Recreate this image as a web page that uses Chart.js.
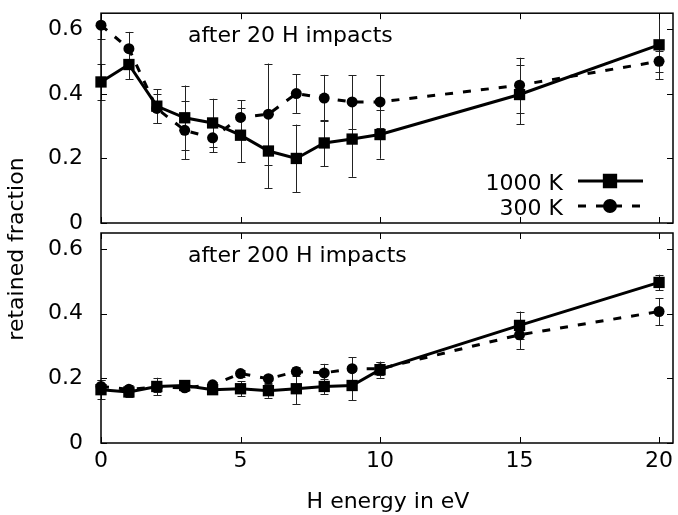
<!DOCTYPE html>
<html>
<head>
<meta charset="utf-8">
<style>
  html, body { margin: 0; padding: 0; background: #fff; }
  #wrap { position: relative; width: 678px; height: 515px; }
  #wrap canvas { position: absolute; left: 0; top: 0; }
</style>
<script src="https://cdn.jsdelivr.net/npm/chart.js@4.4.1/dist/chart.umd.min.js"></script>
</head>
<body>
<div id="wrap">
  <canvas id="topChart" width="678" height="515"></canvas>
  <canvas id="bottomChart" width="678" height="515"></canvas>
</div>
<script>
  'use strict';

  // H energies (eV) and axis ticks
  var energy = [0, 1, 2, 3, 4, 5, 6, 7, 8, 9, 10, 15, 20];
  var xTicks = [0, 5, 10, 15, 20];
  var yTicks = [0, 0.2, 0.4, 0.6];
  var seriesNames = ['1000 K', '300 K'];
  var panelNotes = ['after 20 H impacts', 'after 200 H impacts'];

  // after 20 H impacts
  var hot20     = [0.437, 0.491, 0.362, 0.326, 0.310, 0.272, 0.223, 0.200, 0.248, 0.260, 0.274, 0.398, 0.552];
  var hot20Err  = [0.055, 0.045, 0.052, 0.100, 0.075, 0.083, 0.115, 0.105, 0.072, 0.117, 0.075, 0.092, 0.107];
  var cold20    = [0.613, 0.540, 0.355, 0.287, 0.264, 0.327, 0.337, 0.401, 0.387, 0.375, 0.375, 0.427, 0.501];
  var cold20Err = [0.042, 0.052, 0.045, 0.090, 0.045, 0.053, 0.157, 0.060, 0.072, 0.083, 0.082, 0.085, 0.033];

  // after 200 H impacts
  var hot200     = [0.165, 0.158, 0.175, 0.178, 0.165, 0.168, 0.162, 0.168, 0.175, 0.178, 0.227, 0.364, 0.497];
  var hot200Err  = [0.030, 0.015, 0.027, 0.012, 0.012, 0.023, 0.022, 0.048, 0.024, 0.045, 0.025, 0.043, 0.024];
  var cold200    = [0.175, 0.166, 0.173, 0.171, 0.180, 0.215, 0.199, 0.221, 0.217, 0.230, 0.230, 0.335, 0.407];
  var cold200Err = [0.020, 0.012, 0.015, 0.010, 0.010, 0.012, 0.012, 0.015, 0.028, 0.035, 0.020, 0.044, 0.042];

  Chart.defaults.font.family = "'DejaVu Sans', sans-serif";
  Chart.defaults.font.size = 22;
  Chart.defaults.color = '#000';

  function points(values) {
    return energy.map(function (e, i) { return { x: e, y: values[i] }; });
  }

  // vertical error bars with small caps, cut at the frame
  var errorBars = {
    id: 'errorBars',
    beforeDatasetsDraw: function (chart) {
      var ctx = chart.ctx, area = chart.chartArea;
      var xs = chart.scales.x, ys = chart.scales.y;
      ctx.save();
      ctx.strokeStyle = '#222';
      ctx.lineWidth = 1;
      chart.data.datasets.forEach(function (ds) {
        ds.data.forEach(function (p, i) {
          var px = Math.round(xs.getPixelForValue(p.x)) + 0.5;
          var hi = ys.getPixelForValue(p.y + ds.errors[i]);
          var lo = ys.getPixelForValue(p.y - ds.errors[i]);
          var top = Math.max(hi, area.top), bot = Math.min(lo, area.bottom);
          ctx.beginPath();
          ctx.moveTo(px, top);
          ctx.lineTo(px, bot);
          if (hi >= area.top) { ctx.moveTo(px - 4, Math.round(hi) + 0.5); ctx.lineTo(px + 4, Math.round(hi) + 0.5); }
          if (lo <= area.bottom) { ctx.moveTo(px - 4, Math.round(lo) + 0.5); ctx.lineTo(px + 4, Math.round(lo) + 0.5); }
          ctx.stroke();
        });
      });
      ctx.restore();
    }
  };

  // gnuplot style box with inward ticks on all four sides
  var frame = {
    id: 'frame',
    afterDatasetsDraw: function (chart) {
      var ctx = chart.ctx, a = chart.chartArea;
      var xs = chart.scales.x, ys = chart.scales.y;
      ctx.save();
      ctx.strokeStyle = '#000';
      ctx.lineWidth = 1;
      ctx.beginPath();
      xTicks.forEach(function (v) {
        var px = Math.round(xs.getPixelForValue(v)) + 0.5;
        ctx.moveTo(px, a.bottom); ctx.lineTo(px, a.bottom - 6);
        ctx.moveTo(px, a.top); ctx.lineTo(px, a.top + 6);
      });
      yTicks.forEach(function (v) {
        var py = Math.round(ys.getPixelForValue(v)) + 0.5;
        ctx.moveTo(a.left, py); ctx.lineTo(a.left + 6, py);
        ctx.moveTo(a.right, py); ctx.lineTo(a.right - 6, py);
      });
      ctx.stroke();
      ctx.lineWidth = 1.5;
      ctx.strokeRect(a.left, a.top, a.right - a.left, a.bottom - a.top);
      ctx.restore();
    }
  };

  // panel note, legend and the shared axis titles
  var texts = {
    id: 'texts',
    afterDraw: function (chart, args, opts) {
      var ctx = chart.ctx, a = chart.chartArea;
      ctx.save();
      ctx.fillStyle = '#000';
      ctx.font = "22px 'DejaVu Sans'";
      ctx.textBaseline = 'alphabetic';
      ctx.textAlign = 'left';
      ctx.fillText(opts.note, 188, a.top + 29);

      if (opts.legend) {
        chart.data.datasets.forEach(function (ds, i) {
          var y = 181 + i * 25;
          ctx.textAlign = 'right';
          ctx.fillText(ds.label, 563, y + 9);
          ctx.strokeStyle = ds.borderColor;
          ctx.lineWidth = ds.borderWidth;
          ctx.setLineDash(ds.borderDash || []);
          ctx.beginPath();
          ctx.moveTo(578, y);
          ctx.lineTo(643, y);
          ctx.stroke();
          ctx.setLineDash([]);
          Chart.helpers.drawPoint(ctx, {
            pointStyle: ds.pointStyle, radius: ds.pointRadius, borderWidth: 1, rotation: 0
          }, 610, y);
          ctx.fill();
        });
      }

      if (opts.axisTitles) {
        ctx.textAlign = 'center';
        ctx.fillText('H energy in eV', 388, 508);
        ctx.translate(17, 249);
        ctx.rotate(-Math.PI / 2);
        ctx.textBaseline = 'middle';
        ctx.fillText('retained fraction', 0, 0);
      }
      ctx.restore();
    }
  };

  // invisible tick marks push the labels away from the frame
  function hiddenTicks(len) {
    return { display: true, drawOnChartArea: false, drawTicks: true, tickLength: len, tickColor: 'rgba(0,0,0,0)' };
  }

  function makeChart(id, hot, hotErr, cold, coldErr, isBottom) {
    return new Chart(document.getElementById(id), {
      type: 'scatter',
      data: {
        datasets: [{
          label: seriesNames[0],
          data: points(hot),
          errors: hotErr,
          showLine: true,
          borderColor: '#000',
          backgroundColor: '#000',
          borderWidth: 3,
          pointStyle: 'rect',
          pointRadius: 8,
          pointBorderWidth: 0,
          clip: false
        }, {
          label: seriesNames[1],
          data: points(cold),
          errors: coldErr,
          showLine: true,
          borderColor: '#000',
          backgroundColor: '#000',
          borderWidth: 3,
          borderDash: [8, 10],
          pointStyle: 'circle',
          pointRadius: 5.5,
          pointBorderWidth: 0,
          clip: false
        }]
      },
      options: {
        responsive: false,
        animation: false,
        devicePixelRatio: 1,
        events: [],
        layout: { autoPadding: false, padding: { top: isBottom ? 233 : 13, right: 5, left: 0, bottom: 0 } },
        scales: {
          x: {
            type: 'linear',
            min: 0,
            max: 20.5,
            afterBuildTicks: function (s) { s.ticks = xTicks.map(function (v) { return { value: v }; }); },
            afterFit: function (s) { s.height = isBottom ? 72 : 292; },
            grid: hiddenTicks(5),
            border: { display: false },
            ticks: { display: isBottom, padding: 0, maxRotation: 0, autoSkip: false }
          },
          y: {
            type: 'linear',
            min: 0,
            max: 0.65,
            afterBuildTicks: function (s) { s.ticks = yTicks.map(function (v) { return { value: v }; }); },
            afterFit: function (s) { s.width = 101; },
            grid: hiddenTicks(18),
            border: { display: false },
            ticks: {
              padding: 0,
              callback: function (v) { return v === 0 ? '0' : v.toFixed(1); }
            }
          }
        },
        plugins: {
          legend: { display: false },
          tooltip: { enabled: false },
          texts: { note: isBottom ? panelNotes[1] : panelNotes[0], legend: !isBottom, axisTitles: isBottom }
        }
      },
      plugins: [errorBars, frame, texts]
    });
  }

  makeChart('topChart', hot20, hot20Err, cold20, cold20Err, false);
  makeChart('bottomChart', hot200, hot200Err, cold200, cold200Err, true);
</script>
</body>
</html>
